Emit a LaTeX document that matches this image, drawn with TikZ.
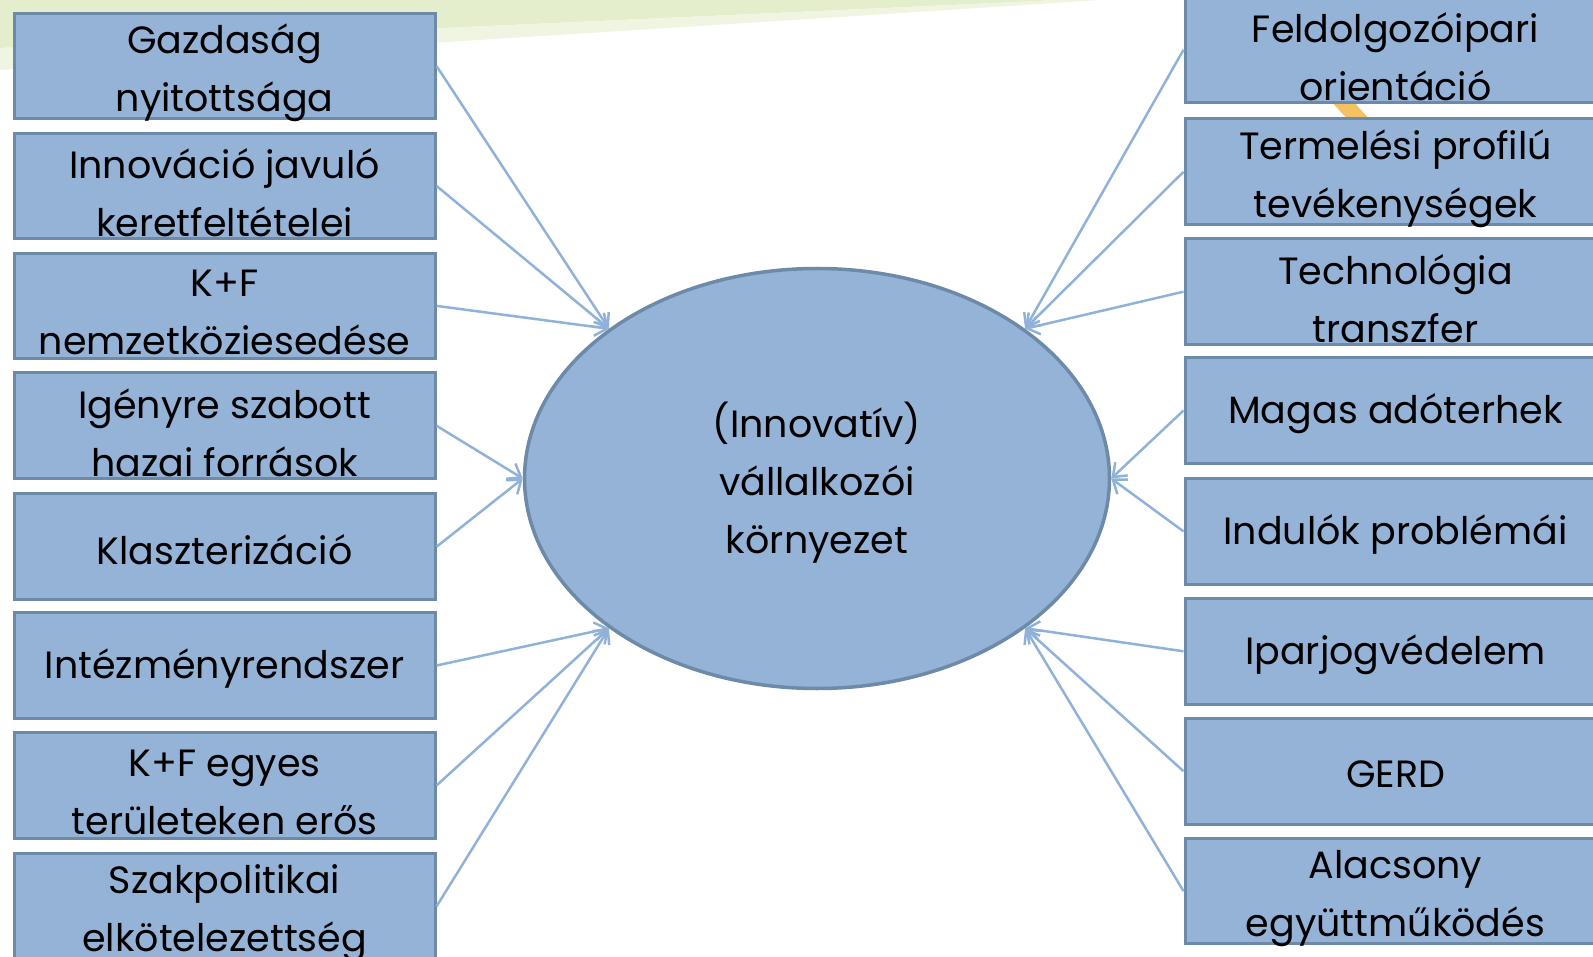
\documentclass[tikz,border=0pt]{standalone}
\usepackage{fontspec}
\setmainfont{Poppins}
\usetikzlibrary{shapes.geometric,arrows.meta}
\definecolor{boxfill}{HTML}{95B3D7}
\definecolor{boxline}{HTML}{6D8AA8}
\definecolor{arrowc}{HTML}{90B2D8}
\definecolor{swoosh}{HTML}{E5EECC}
\definecolor{orangec}{HTML}{F5C263}
\tikzset{
  factor/.style={draw=boxline, line width=3pt, fill=boxfill, rectangle,
    minimum width=421pt, minimum height=105.7pt, inner sep=0pt},
  txt/.style={align=center, inner sep=0pt, font=\fontsize{38}{58}\selectfont},
  hub/.style={draw=boxline, line width=3.5pt, fill=boxfill, ellipse,
    minimum width=585pt, minimum height=420pt, inner sep=0pt},
  conn/.style={draw=arrowc, line width=2.5pt, -{Straight Barb[length=12pt,width=18pt]}}
}
% #1 name, #2 position, #3 text, #4 vertical text shift
\newcommand\factorbox[4]{%
  \node[factor] (#1) at (#2) {};
  \node[txt, yshift=#4] (#1t) at (#1.center) {#3};}
\begin{document}
\begin{tikzpicture}[x=1pt,y=-1pt]
\useasboundingbox (0,0) rectangle (1593,957);
% background decorations
\fill[swoosh] (0,0) -- (1060,0) .. controls (800,12) and (400,30) .. (0,48) -- cycle;
\fill[swoosh!60!white] (0,48) .. controls (400,30) and (800,12) .. (1060,0) -- (1100,0) .. controls (800,20) and (400,45) .. (0,70) -- cycle;
\fill[orangec] (1330,100) -- (1352,100) -- (1372,122) -- (1350,122) -- cycle;
\draw[gray!25, line width=3pt] (22,975) arc[start angle=230, end angle=130, radius=55];
% hub
\node[hub] (e) at (817,478.5) {};
\node[txt, yshift=-4pt] (et) at (e.center) {(Innovatív)\\vállalkozói\\környezet};
% left boxes
\factorbox{l1}{224.6,66.1}{Gazdaság\\nyitottsága}{-7pt}
\factorbox{l2}{224.6,186.0}{Innováció javuló\\keretfeltételei}{-7pt}
\factorbox{l3}{224.6,305.9}{K+F\\nemzetköziesedése}{-7pt}
\factorbox{l4}{224.6,425.8}{Igényre szabott\\hazai források}{-7pt}
\factorbox{l5}{224.6,546.7}{Klaszterizáció}{-3pt}
\factorbox{l6}{224.6,665.5}{Intézményrendszer}{-3pt}
\factorbox{l7}{224.6,785.4}{K+F egyes\\területeken erős}{-7pt}
\factorbox{l8}{224.6,906.3}{Szakpolitikai\\elkötelezettség}{-7pt}
% right boxes
\factorbox{r1}{1395.5,49.8}{Feldolgozóipari\\orientáció}{-7pt}
\factorbox{r2}{1395.5,171.8}{Termelési profilú\\tevékenységek}{-7pt}
\factorbox{r3}{1395.5,291.7}{Technológia\\transzfer}{-7pt}
\factorbox{r4}{1395.5,410.5}{Magas adóterhek}{-3pt}
\factorbox{r5}{1395.5,531.4}{Indulók problémái}{-3pt}
\factorbox{r6}{1395.5,651.3}{Iparjogvédelem}{-3pt}
\factorbox{r7}{1395.5,771.2}{GERD}{-3pt}
\factorbox{r8}{1395.5,891.1}{Alacsony\\együttműködés}{-7pt}
% connectors
\draw[conn] (l1.east) -- (e.north west);
\draw[conn] (l2.east) -- (e.north west);
\draw[conn] (l3.east) -- (e.north west);
\draw[conn] (l4.east) -- (e.west);
\draw[conn] (l5.east) -- (e.west);
\draw[conn] (l6.east) -- (e.south west);
\draw[conn] (l7.east) -- (e.south west);
\draw[conn] (l8.east) -- (e.south west);
\draw[conn] (r1.west) -- (e.north east);
\draw[conn] (r2.west) -- (e.north east);
\draw[conn] (r3.west) -- (e.north east);
\draw[conn] (r4.west) -- (e.east);
\draw[conn] (r5.west) -- (e.east);
\draw[conn] (r6.west) -- (e.south east);
\draw[conn] (r7.west) -- (e.south east);
\draw[conn] (r8.west) -- (e.south east);
\end{tikzpicture}
\end{document}
